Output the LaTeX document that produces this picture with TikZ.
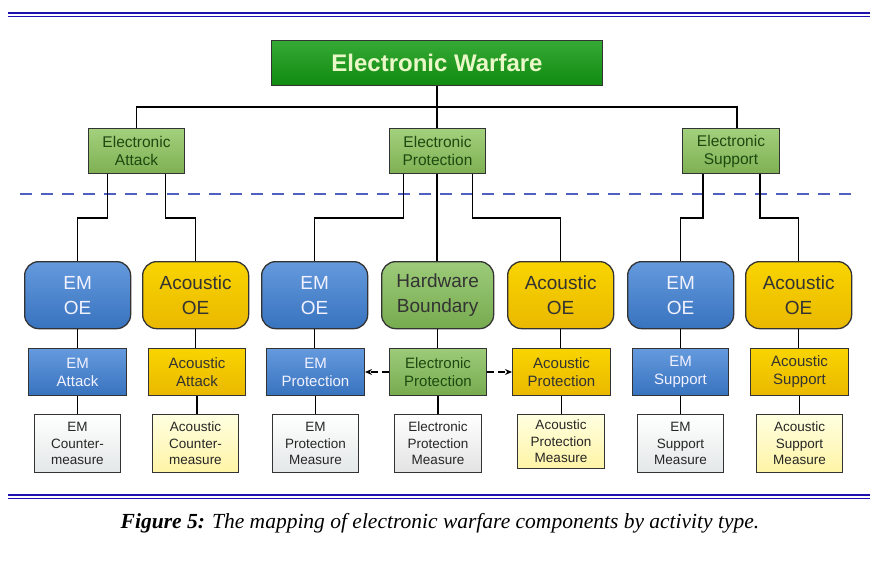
\documentclass[tikz,border=0pt]{standalone}
\usepackage{fontspec}
\setmainfont{Liberation Sans}
\newfontfamily\capfont{Liberation Serif}
\usetikzlibrary{arrows.meta}
\definecolor{rulecol}{HTML}{2010B0}
\definecolor{titlegreen}{HTML}{129A12}
\definecolor{titletext}{HTML}{EAF8C8}
\definecolor{lgreen}{HTML}{8CC45C}
\definecolor{lgreentext}{HTML}{1C4A10}
\definecolor{oeblue}{HTML}{3E80D4}
\definecolor{oegold}{HTML}{F6C200}
\definecolor{hwgreen}{HTML}{84BE58}
\definecolor{dashcol}{HTML}{5060C0}
\tikzset{
  x=1pt, y=-1pt,
  base/.style={draw=black!80, line width=1pt, align=center, inner sep=0pt, anchor=north west},
  titlebox/.style={base, top color=titlegreen!85!white, bottom color=titlegreen!90!black, text=titletext, font=\bfseries\fontsize{24}{28}\selectfont},
  greenbox/.style={base, top color=lgreen!80!white, bottom color=lgreen!90!black, text=lgreentext, font=\fontsize{15.5}{18}\selectfont},
  oebox/.style={base, rounded corners=14pt, line width=1.3pt, font=\fontsize{19}{25}\selectfont},
  blueoe/.style={oebox, top color=oeblue!80!white, bottom color=oeblue!90!black, text=blue!5!white},
  goldoe/.style={oebox, top color=oegold!70!yellow, bottom color=oegold!95!black, text=black!80},
  hwoe/.style={oebox, top color=hwgreen!80!white, bottom color=hwgreen!90!black, text=black!80},
  bluerect/.style={base, top color=oeblue!80!white, bottom color=oeblue!90!black, text=blue!5!white, font=\fontsize{15}{18}\selectfont},
  goldrect/.style={base, top color=oegold!70!yellow, bottom color=oegold!95!black, text=black!80, font=\fontsize{15}{18}\selectfont},
  greenrect/.style={base, top color=hwgreen!80!white, bottom color=hwgreen!90!black, text=lgreentext, font=\fontsize{15}{18}\selectfont},
  bluemeas/.style={base, top color=white, bottom color=cyan!8!gray!20!white, text=black!85, font=\fontsize{13.5}{16.5}\selectfont},
  graymeas/.style={base, top color=white, bottom color=gray!22!white, text=black!85, font=\fontsize{13.5}{16.5}\selectfont},
  goldmeas/.style={base, top color=yellow!12!white, bottom color=orange!25!yellow!35!white, text=black!85, font=\fontsize{13.5}{16.5}\selectfont},
  conn/.style={draw=black, line width=1.2pt},
}
\begin{document}
\begin{tikzpicture}
\useasboundingbox (0,0) rectangle (883,562);
\fill[white] (0,0) rectangle (883,562);
% rules
\draw[rulecol, line width=1.1pt] (8,13) -- (870,13);
\draw[rulecol, line width=0.8pt] (8,16) -- (870,16);
\draw[rulecol, line width=1.1pt] (8,495) -- (870,495);
\draw[rulecol, line width=0.8pt] (8,498) -- (870,498);
% dashed separator
\draw[dashcol, line width=1.3pt, dash pattern=on 12pt off 9pt] (20,194) -- (858,194);
% title
\node[titlebox, minimum width=331pt, minimum height=45pt] (ew) at (271,40) {Electronic Warfare};
% level 2
\node[greenbox, minimum width=96pt, minimum height=45pt] (ea) at (88,128) {Electronic\\Attack};
\node[greenbox, minimum width=96pt, minimum height=45pt] (ep) at (389,128) {Electronic\\Protection};
\node[greenbox, minimum width=97pt, minimum height=45pt] (es) at (682,128) {Electronic\\Support};
% level 3
\node[blueoe, minimum width=106pt, minimum height=67pt] (oe1) at (24,261) {EM\\OE};
\node[goldoe, minimum width=106pt, minimum height=67pt] (oe2) at (142,261) {Acoustic\\OE};
\node[blueoe, minimum width=106pt, minimum height=67pt] (oe3) at (261,261) {EM\\OE};
\node[hwoe, minimum width=112pt, minimum height=67pt] (hw) at (381,261) {Hardware\\Boundary};
\node[goldoe, minimum width=106pt, minimum height=67pt] (oe5) at (507,261) {Acoustic\\OE};
\node[blueoe, minimum width=106pt, minimum height=67pt] (oe6) at (627,261) {EM\\OE};
\node[goldoe, minimum width=106pt, minimum height=67pt] (oe7) at (745,261) {Acoustic\\OE};
% level 4
\node[bluerect, minimum width=98pt, minimum height=47pt] (r1) at (28,348) {EM\\Attack};
\node[goldrect, minimum width=97pt, minimum height=47pt] (r2) at (148,348) {Acoustic\\Attack};
\node[bluerect, minimum width=98pt, minimum height=47pt] (r3) at (266,348) {EM\\Protection};
\node[greenrect, minimum width=97pt, minimum height=47pt] (r4) at (389,348) {Electronic\\Protection};
\node[goldrect, minimum width=98pt, minimum height=47pt] (r5) at (512,348) {Acoustic\\Protection};
\node[bluerect, minimum width=96pt, minimum height=47pt] (r6) at (632,348) {EM\\Support};
\node[goldrect, minimum width=98pt, minimum height=47pt] (r7) at (750,348) {Acoustic\\Support};
% level 5
\node[bluemeas, minimum width=86pt, minimum height=58pt] (m1) at (34,414) {EM\\Counter-\\measure};
\node[goldmeas, minimum width=86pt, minimum height=58pt] (m2) at (152,414) {Acoustic\\Counter-\\measure};
\node[bluemeas, minimum width=86pt, minimum height=58pt] (m3) at (272,414) {EM\\Protection\\Measure};
\node[graymeas, minimum width=87pt, minimum height=58pt] (m4) at (394,414) {Electronic\\Protection\\Measure};
\node[goldmeas, minimum width=87pt, minimum height=54pt] (m5) at (517,414) {Acoustic\\Protection\\Measure};
\node[bluemeas, minimum width=86pt, minimum height=58pt] (m6) at (637,414) {EM\\Support\\Measure};
\node[goldmeas, minimum width=86pt, minimum height=58pt] (m7) at (756,414) {Acoustic\\Support\\Measure};
% connectors top
\coordinate (hub) at (ew.south |- 0,107);
\coordinate (esin) at (737,107);
\draw[conn] (ew.south) -- (hub);
\draw[conn] (ea.north) |- (hub) -- (esin) -- (esin |- es.north);
\draw[conn] (hub) -- (hub |- ep.north);
% level 2 -> 3
\draw[conn] ([xshift=-29pt]ea.south) -- ++(0,44) -| (oe1.north);
\draw[conn] ([xshift=29pt]ea.south) -- ++(0,44) -| (oe2.north);
\draw[conn] ([xshift=-34pt]ep.south) -- ++(0,44) -| (oe3.north);
\draw[conn] (hub |- ep.south) -- (hub |- hw.north);
\draw[conn] ([xshift=35pt]ep.south) -- ++(0,44) -| (oe5.north);
\draw[conn] ([xshift=-28pt]es.south) -- ++(0,44) -| (oe6.north);
\draw[conn] ([xshift=29pt]es.south) -- ++(0,44) -| (oe7.north);
% level 3 -> 4 -> 5
\foreach \i/\j in {oe1/r1,oe2/r2,oe3/r3,hw/r4,oe5/r5,oe6/r6,oe7/r7,r1/m1,r2/m2,r3/m3,r4/m4,r5/m5,r6/m6,r7/m7}
  \draw[conn] (\i.south) -- (\i.south |- \j.north);
% dashed arrows
\draw[line width=1.2pt, dash pattern=on 7pt off 4pt, -{Stealth[length=7pt,width=6pt]}] (r4.west) -- (r3.east);
\draw[line width=1.2pt, dash pattern=on 7pt off 4pt, -{Stealth[length=7pt,width=6pt]}] (r4.east) -- (r5.west);
% caption
\node[font=\capfont\fontsize{21.5}{25}\selectfont, anchor=center] (cap) at (440,523) {\textbf{\textit{Figure 5:}} \textit{The mapping of electronic warfare components by activity type.}};
\end{tikzpicture}
\end{document}
